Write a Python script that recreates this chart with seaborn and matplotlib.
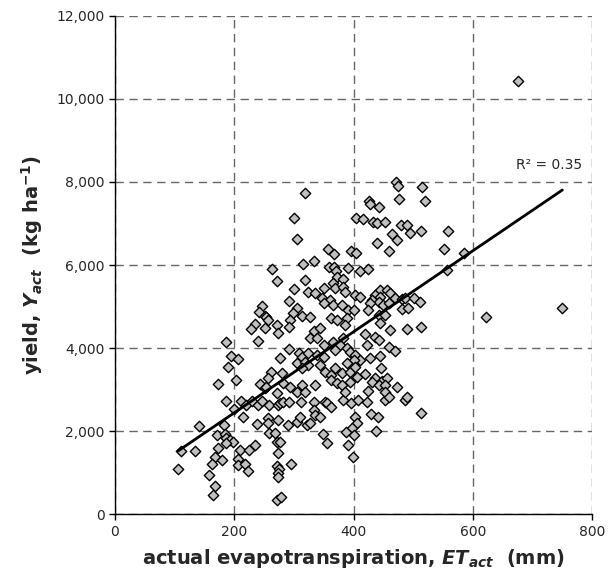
import seaborn as sns
import matplotlib.pyplot as plt
import matplotlib.ticker as mticker
import pandas as pd
import numpy as np

sns.set_style('white')
plt.rcParams['font.family'] = ['DejaVu Sans']
plt.rcParams['mathtext.fontset'] = 'custom'
plt.rcParams['mathtext.rm'] = 'DejaVu Sans:bold'
plt.rcParams['mathtext.it'] = 'DejaVu Sans:bold:italic'
plt.rcParams['mathtext.bf'] = 'DejaVu Sans:bold'

# actual evapotranspiration (mm) and yield (kg/ha)
et_act = [
    319, 301, 305, 357, 368, 395, 404, 404, 415, 334, 316, 263, 359, 367, 371, 390, 410, 272, 319, 372, 382, 366,
    471, 474, 515, 426, 427, 443, 477, 520, 432, 440, 452, 479, 489, 494, 513, 558, 464, 473, 440, 460, 552, 585, 424, 556,
    622, 750, 675,
    246, 242, 251, 235, 228, 251, 187, 240, 195, 206, 190, 203, 172, 243, 251,
    187, 199, 211, 219, 230, 240, 247, 214, 239, 141, 183, 171, 184, 187, 193, 198, 186, 111, 135, 173, 210, 224, 234,
    167, 179, 162, 206, 206, 218, 223, 106, 157, 168, 165,
    258, 274, 277, 282, 291, 312, 333, 352, 355, 363, 383, 396, 407, 257, 273, 257, 290, 305, 310, 322, 327,
    333, 336, 344, 258, 268, 271, 277, 348, 355, 402, 405, 398, 387, 400, 391, 399, 274, 295, 271, 275, 273, 273, 271, 279,
    422, 453, 487, 430, 441, 513, 438,
    445, 456, 461, 436, 445, 431, 442, 428, 450, 459, 470, 481, 487, 501, 512, 481, 492, 425, 442, 453, 445,
    461, 489, 513, 419, 436, 442, 422, 459, 470, 428, 445, 446, 419, 436, 447, 456,
    431, 442, 453, 473, 425, 453, 459, 489,
    301, 323, 336, 351, 369, 383, 386, 403, 411, 347, 361, 350, 366, 380, 391,
    292, 305, 299, 313, 327, 294, 291, 271, 274, 254, 257,
    363, 372, 389, 386, 400, 333, 344, 327, 338, 350, 366, 383, 378, 291,
    308, 313, 324, 338, 350, 369, 389, 394, 403, 411, 400, 389,
    277, 305, 319, 324, 313, 344, 352, 369, 363, 380, 394, 403,
    262, 257, 280, 282, 294, 313, 305, 319, 336, 363, 372, 380, 386, 394, 405, 254, 271,
]
yield_act = [
    7730, 7140, 6627, 6394, 6265, 6337, 6297, 7126, 7100, 6104, 6016, 5904, 5960, 5945, 5863, 5935, 5863, 5622, 5639, 5719, 5670, 5559,
    8008, 7904, 7872, 7550, 7462, 7405, 7583, 7534, 7028, 7004, 7036, 6956, 6964, 6763, 6819, 6819, 6739, 6595, 6538, 6345, 6378, 6298, 5896, 5880,
    4755, 4956, 10420,
    5020, 4860, 4779, 4571, 4450, 4474, 4153, 4169, 3815, 3735, 3550, 3229, 3125, 3125, 3044,
    2730, 2530, 2714, 2635, 2714, 2635, 2730, 2330, 2169, 2120, 2145, 1904, 1920, 1824, 1783, 1743, 1703, 1518, 1518, 1598, 1542, 1558, 1663,
    1381, 1317, 1220, 1341, 1180, 1220, 1036, 1100, 940, 675, 458,
    2626, 2626, 2667, 2707, 2707, 2707, 2707, 2707, 2667, 2570, 2747, 2667, 2747, 2305, 2265, 2185, 2145, 2224, 2330, 2145, 2185,
    2506, 2386, 2330, 1944, 1944, 1743, 1743, 1928, 1719, 2345, 2200, 2065, 1968, 1904, 1663, 1366, 1462, 1197, 1157, 1100, 995, 884, 354, 417,
    2707, 2747, 2747, 2410, 2330, 2442, 2007,
    5398, 5398, 5318, 5277, 5237, 5157, 5116, 5076, 5036, 5076, 5197, 5181, 5197, 5213, 5116, 4940, 4972, 4916, 4795, 4795, 4595,
    4434, 4458, 4514, 4330, 4273, 4193, 4072, 4032, 3928, 3751, 3815, 3526, 3366, 3269, 3213, 3285,
    3188, 3108, 3108, 3068, 2964, 2948, 2827, 2827,
    5422, 5357, 5318, 5454, 5454, 5478, 5342, 5277, 5237, 5213, 5157, 5076, 5036, 5036, 4916,
    5133, 4956, 4835, 4779, 4755, 4675, 4514, 4554, 4354, 4755, 4675,
    4715, 4675, 4715, 4554, 4916, 4410, 4474, 4233, 4233, 4072, 4153, 4233, 4072, 3968,
    3872, 3791, 3872, 3831, 3791, 3952, 3992, 3912, 3831, 3711, 3711, 3631,
    3767, 3631, 3671, 3590, 3510, 3590, 3430, 3510, 3349, 3390, 3430, 3550,
    3414, 3270, 3390, 3149, 3068, 3108, 2948, 2948, 3108, 3229, 3149, 3108, 2948, 3188, 3310, 3068, 2908,
]
r2_label = 'R² = 0.35'
x_ticks = [0, 200, 400, 600, 800]
y_ticks = [0, 2000, 4000, 6000, 8000, 10000, 12000]

df = pd.DataFrame({'et': et_act, 'yield': yield_act})

fig = plt.figure(figsize=(6.08, 5.85), dpi=100)
ax = fig.add_axes([0.189, 0.121, 0.785, 0.852])

sns.regplot(x='et', y='yield', data=df, ci=None, ax=ax,
            marker='D',
            scatter_kws={'s': 28, 'color': '#c0c0c0', 'edgecolor': 'black',
                         'linewidths': 1.0, 'alpha': 1, 'zorder': 3},
            line_kws={'color': 'black', 'linewidth': 2, 'zorder': 4})

ax.set_xlim(0, 800)
ax.set_ylim(0, 12000)
ax.set_xticks(x_ticks)
ax.set_yticks(y_ticks)
ax.yaxis.set_major_formatter(mticker.StrMethodFormatter('{x:,.0f}'))

# dashed grid, also standing in for the top and right frame
ax.grid(True, linestyle=(0, (6, 4)), color='#666666', linewidth=1)
ax.set_axisbelow(True)

for s in ['top', 'right']:
    ax.spines[s].set_visible(False)
for s in ['left', 'bottom']:
    ax.spines[s].set_color('black')
    ax.spines[s].set_linewidth(1)

ax.tick_params(axis='both', which='major', labelsize=10, direction='out',
               length=4, width=1, color='black', left=True, bottom=True)

ax.set_xlabel(r'actual evapotranspiration, $ET_{act}$  (mm)', fontsize=14,
              fontweight='bold', labelpad=6)
ax.set_ylabel(r'yield, $Y_{act}$  (kg ha$^{-1}$)', fontsize=14,
              fontweight='bold', labelpad=8)

ax.text(0.91, 0.70, r2_label, transform=ax.transAxes, fontsize=10,
        ha='center', va='center')

fig.savefig('out.png', dpi=100)
